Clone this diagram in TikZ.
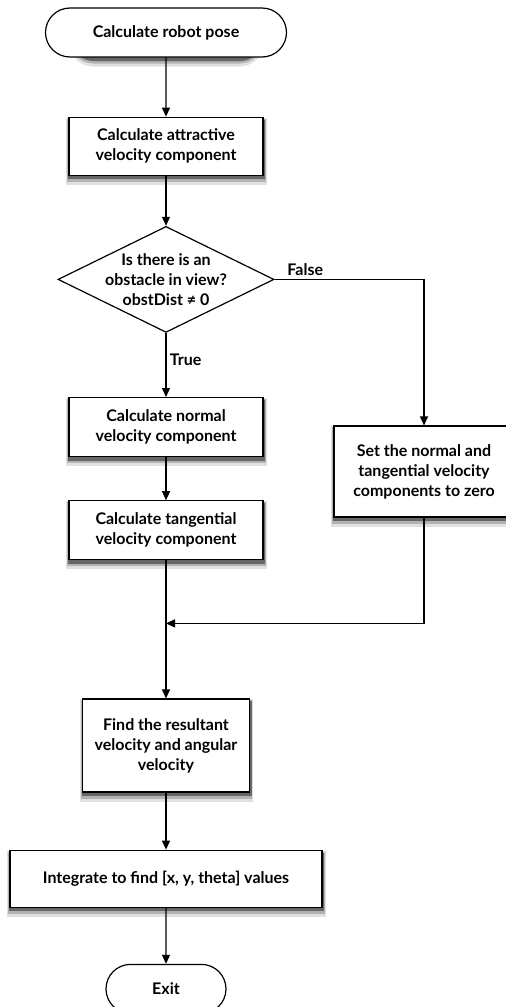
\documentclass[tikz,border=0pt]{standalone}
\usepackage{fontspec}
\setmainfont{Lato}
\usetikzlibrary{positioning,shapes.geometric,shapes.misc,arrows.meta,backgrounds}

\tikzset{
  txt/.style={font=\bfseries\fontsize{16}{20}\selectfont},
  base/.style={draw, line width=1.2pt, fill=white, align=center, inner sep=1pt, txt},
  procbox/.style={base, rectangle, minimum width=194pt, minimum height=58pt},
  termbox/.style={base, rounded rectangle, minimum height=49pt},
  decbox/.style={draw, line width=1.2pt, fill=white, diamond, minimum width=216pt, minimum height=106pt, inner sep=0pt},
  flow/.style={line width=1.2pt, -{Triangle[length=9pt,width=8pt]}},
  softshadow/.style={fill=black!12},
  midshadow/.style={fill=black!30},
  darkshadow/.style={fill=black!60},
}

\begin{document}
\begin{tikzpicture}
    \useasboundingbox (0pt,0pt) rectangle (506pt,-1007pt);

    \node[termbox, minimum width=243pt] (start) at (166pt,-32.5pt) {Calculate robot pose};
    \node[procbox, below=59pt of start] (attr) {Calculate attractive\\velocity component};
    \node[decbox, below=50pt of attr,
          label={[txt, align=center]center:{Is there is an\\obstacle in view?\\obstDist ≠ 0}}] (dec) {};
    \node[procbox, minimum height=59pt, below=64pt of dec] (normal) {Calculate normal\\velocity component};
    \node[procbox, minimum height=59pt, below=43pt of normal] (tang) {Calculate tangential\\velocity component};
    \node[procbox, minimum width=180pt, minimum height=91pt] (set) at (424pt,-471.5pt) {Set the normal and\\tangential velocity\\components to zero};
    \node[procbox, minimum width=167pt, minimum height=93pt, below=138pt of tang] (result) {Find the resultant\\velocity and angular\\velocity};
    \node[procbox, minimum width=312pt, minimum height=57pt, below=57pt of result] (integ) {Integrate to find [x, y, theta] values};
    \node[termbox, minimum width=122pt, below=56pt of integ] (exit) {Exit};

    % shadows under the boxes
    \begin{scope}[on background layer]
      \foreach \n in {attr,normal,tang,set,result,integ} {
        \fill[softshadow] ([shift={(-2pt,-9pt)}]\n.south west) rectangle ([shift={(3pt,-1pt)}]\n.north east);
        \fill[midshadow] ([shift={(-1pt,-6pt)}]\n.south west) rectangle ([shift={(2pt,-2pt)}]\n.north east);
        \fill[darkshadow] ([shift={(0pt,-3.5pt)}]\n.south west) rectangle ([shift={(1.5pt,-3pt)}]\n.north east);
      }
      \foreach \n in {start,exit} {
        \fill[softshadow, rounded corners=26pt] ([shift={(-2pt,-9pt)}]\n.south west) rectangle ([shift={(3pt,-1pt)}]\n.north east);
        \fill[midshadow, rounded corners=25pt] ([shift={(-1pt,-6pt)}]\n.south west) rectangle ([shift={(2pt,-2pt)}]\n.north east);
        \fill[darkshadow, rounded corners=24pt] ([shift={(0pt,-3.5pt)}]\n.south west) rectangle ([shift={(1.5pt,-3pt)}]\n.north east);
      }
    \end{scope}

    % where the false branch comes back
    \coordinate[below=63pt of tang.south] (join);

    \draw[flow] (start) -- (attr);
    \draw[flow] (attr) -- (dec);
    \draw[flow] (dec) -- node[txt, right, pos=0.42] {True} (normal);
    \draw[flow] (dec.east) -| node[txt, above right, pos=0.03] {False} (set.north);
    \draw[flow] (normal) -- (tang);
    \draw[flow] (set.south) |- (join);
    \draw[flow] (tang) -- (result);
    \draw[flow] (result) -- (integ);
    \draw[flow] (integ) -- (exit);
\end{tikzpicture}
\end{document}
